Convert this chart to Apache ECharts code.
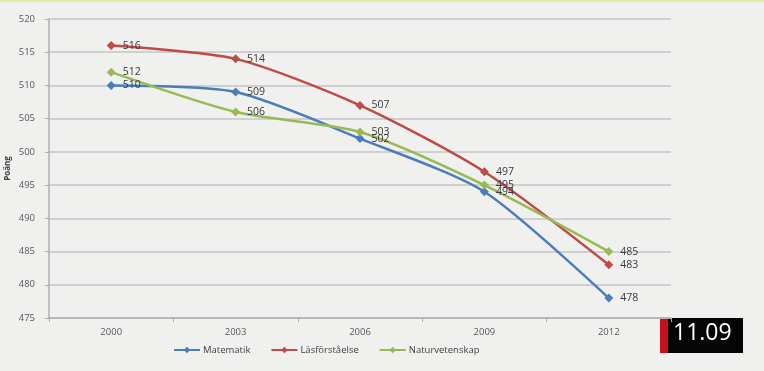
<!DOCTYPE html>
<html><head><meta charset="utf-8">
<script src="https://cdn.jsdelivr.net/npm/echarts@6/dist/echarts.min.js"></script>
<style>html,body{margin:0;padding:0;background:#f0f0ef;}#c{width:764px;height:371px;}</style>
</head><body><div id="c"></div>
<script>
const years = ['2000','2003','2006','2009','2012'];
const matematik = [510, 509, 502, 494, 478];
const lasforstaelse = [516, 514, 507, 497, 483];
const naturvetenskap = [512, 506, 503, 495, 485];
const yTicks = {min: 475, max: 520, interval: 5};

const chart = echarts.init(document.getElementById('c'));
function ser(name, data, color){
  return {
    name, type:'line', data, smooth:0.25,
    symbol:'diamond', symbolSize:9,
    lineStyle:{color, width:2.5},
    itemStyle:{color},
    label:{show:true, position:'right', distance:7, color:'#3a3a3a', fontSize:10.5, fontFamily:'Open Sans'}
  };
}
chart.setOption({
  backgroundColor:'#f0f0ef',
  animation:false,
  grid:{left:49, right:93, top:19, bottom:53, containLabel:false, outerBoundsMode:'none'},
  xAxis:{type:'category', data:years, boundaryGap:true,
    axisLine:{lineStyle:{color:'#b0b0b0', width:1.5}},
    axisTick:{show:true, length:4, lineStyle:{color:'#b0b0b0'}},
    axisLabel:{color:'#595959', fontSize:9.5, fontFamily:'Open Sans', margin:9}},
  yAxis:{type:'value', min:yTicks.min, max:yTicks.max, interval:yTicks.interval,
    name:'Poäng', nameLocation:'middle', nameGap:37, nameRotate:90, nameMoveOverlap:false,
    nameTextStyle:{color:'#404040', fontSize:8, fontWeight:'bold', fontFamily:'Open Sans'},
    axisLine:{show:true, lineStyle:{color:'#b0b0b0', width:1.5}},
    axisTick:{show:true, length:4, lineStyle:{color:'#b0b0b0'}},
    splitLine:{lineStyle:{color:'#c4c4c4', width:1.5}},
    axisLabel:{color:'#595959', fontSize:9.5, fontFamily:'Open Sans', margin:14}},
  legend:{bottom:11, left:168, itemGap:20, itemWidth:26, itemHeight:8,
    textStyle:{color:'#404040', fontSize:9.5, fontFamily:'Open Sans', padding:[0,0,0,-2]},
    data:['Matematik','Läsförståelse','Naturvetenskap']},
  series:[
    ser('Matematik', matematik, '#4a7ebb'),
    ser('Läsförståelse', lasforstaelse, '#be4b48'),
    ser('Naturvetenskap', naturvetenskap, '#98b954')
  ],
  graphic:[
    {type:'rect', shape:{x:0,y:0,width:764,height:2}, style:{fill:'#e3ee9a'}},
    {type:'rect', shape:{x:660,y:318,width:8,height:35}, style:{fill:'#c8101a'}},
    {type:'rect', shape:{x:668,y:318,width:75,height:35}, style:{fill:'#050505'}},
    {type:'text', left:673, top:322, style:{text:'11.09', fill:'#ffffff', fontSize:23, fontFamily:'Open Sans'}}
  ]
});
</script></body></html>
